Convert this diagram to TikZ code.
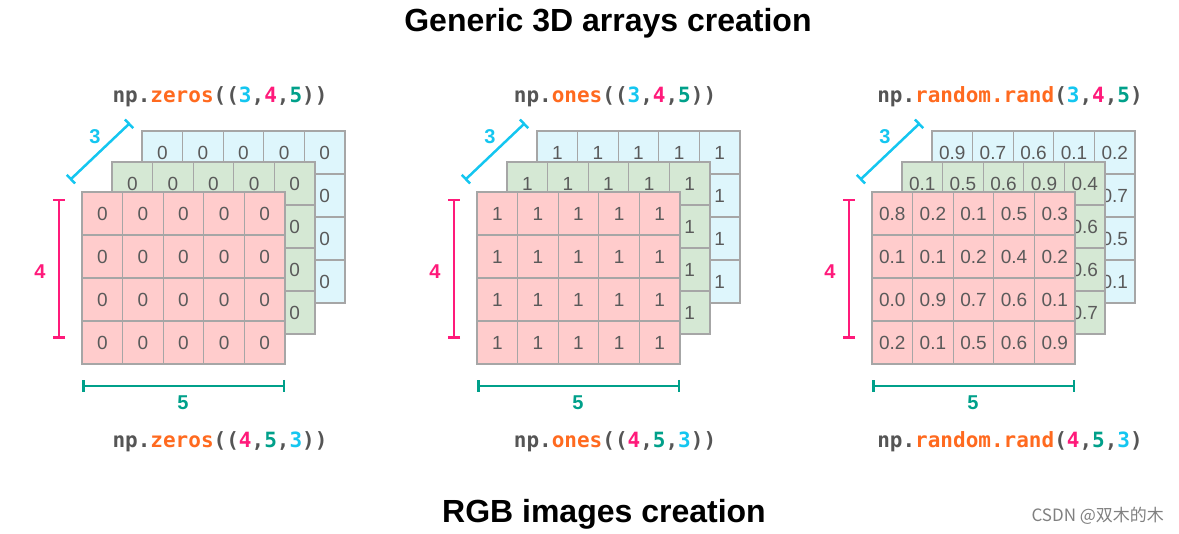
\documentclass[tikz,border=0pt]{standalone}
\usepackage{fontspec}
\setmainfont{Liberation Sans}
\setmonofont{DejaVu Sans Mono}
\newfontfamily\cjk{Noto Sans CJK SC}
\usepackage{xcolor}
\usepackage{tikz}
\usetikzlibrary{arrows.meta}

\definecolor{redlayer}{HTML}{FFCCCC}
\definecolor{greenlayer}{HTML}{D5E8D4}
\definecolor{bluelayer}{HTML}{DEF6FC}
\definecolor{cellgray}{HTML}{A6A6A6}
\definecolor{numgray}{HTML}{5A5A5A}
\definecolor{dimcyan}{HTML}{14C6F0}
\definecolor{dimpink}{HTML}{FF1A7A}
\definecolor{dimteal}{HTML}{00A08A}
\definecolor{codegray}{HTML}{555555}
\definecolor{codeorange}{HTML}{FF6A1F}

\newcommand{\cg}[1]{\textcolor{codegray}{#1}}
\newcommand{\co}[1]{\textcolor{codeorange}{#1}}
\newcommand{\shapetop}{\textcolor{dimcyan}{3}\cg{,}\textcolor{dimpink}{4}\cg{,}\textcolor{dimteal}{5}}
\newcommand{\shapebot}{\textcolor{dimpink}{4}\cg{,}\textcolor{dimteal}{5}\cg{,}\textcolor{dimcyan}{3}}

% one layer of cells: name, x and y of first cell centre, fill, rows
\newcommand{\gridlayer}[5]{%
  \foreach \vals [count=\row from 0] in {#5} {%
    \foreach \val [count=\col from 0] in \vals {%
      \node[cell, fill=#4] (#1-\row-\col) at ({#2+\col*40.6}, {#3+\row*43}) {\val};
    }%
  }%
}

\begin{document}
\begin{tikzpicture}[x=1pt, y=-1pt]

		\tikzstyle{cell}   = [rectangle, draw=cellgray, line width=1.3pt, minimum width=40.6pt, minimum height=43pt, inner sep=0pt, text=numgray, font=\fontsize{19}{19}\selectfont]
		\tikzstyle{dimbar} = [line width=2.5pt, {Bar[width=12pt]}-{Bar[width=12pt]}]
		\tikzstyle{dimtext} = [font=\fontsize{20}{20}\selectfont\bfseries]
		\tikzstyle{code}   = [font=\fontsize{21}{21}\selectfont\ttfamily\bfseries, text=codegray]
		\tikzstyle{title}  = [font=\fontsize{32}{32}\selectfont\bfseries, text=black]

		\useasboundingbox (0,0) rectangle (1179,534);

		%%Titles
		\node [title](top) at (608,23) {Generic 3D arrays creation};
		\node [title](bottom) at (604,514) {RGB images creation};
		\node [font=\fontsize{17}{17}\selectfont\cjk, text=black!50, anchor=west](mark) at (1028,516) {CSDN @双木的木};

		%%np.zeros
		\gridlayer{zb}{162.3}{152.5}{bluelayer}{{0,0,0,0,0},{,,,,0},{,,,,0},{,,,,0}}
		\gridlayer{zg}{132.3}{183.5}{greenlayer}{{0,0,0,0,0},{,,,,0},{,,,,0},{,,,,0}}
		\gridlayer{zr}{102.3}{213.5}{redlayer}{{0,0,0,0,0},{0,0,0,0,0},{0,0,0,0,0},{0,0,0,0,0}}

		%%np.ones
		\gridlayer{ob}{557.3}{152.5}{bluelayer}{{1,1,1,1,1},{,,,,1},{,,,,1},{,,,,1}}
		\gridlayer{og}{527.3}{183.5}{greenlayer}{{1,1,1,1,1},{,,,,1},{,,,,1},{,,,,1}}
		\gridlayer{or}{497.3}{213.5}{redlayer}{{1,1,1,1,1},{1,1,1,1,1},{1,1,1,1,1},{1,1,1,1,1}}

		%%np.random.rand
		\gridlayer{rb}{952.3}{152.5}{bluelayer}{{0.9,0.7,0.6,0.1,0.2},{,,,,0.7},{,,,,0.5},{,,,,0.1}}
		\gridlayer{rg}{922.3}{183.5}{greenlayer}{{0.1,0.5,0.6,0.9,0.4},{,,,,0.6},{,,,,0.6},{,,,,0.7}}
		\gridlayer{rr}{892.3}{213.5}{redlayer}{{0.8,0.2,0.1,0.5,0.3},{0.1,0.1,0.2,0.4,0.2},{0.0,0.9,0.7,0.6,0.1},{0.2,0.1,0.5,0.6,0.9}}

		%%Dimensions
		\foreach \X/\nm in {82/z, 477/o, 872/r} {
			\coordinate (\nm-da) at (\X-12,180);
			\coordinate (\nm-db) at (\X+48,123);
			\coordinate (\nm-ha) at (\X-23,199);
			\coordinate (\nm-hb) at (\X-23,339);
			\coordinate (\nm-wa) at (\X,386);
			\coordinate (\nm-wb) at (\X+203,386);
			\draw [dimbar, dimcyan] (\nm-da) -- (\nm-db);
			\draw [dimbar, dimpink] (\nm-ha) -- (\nm-hb);
			\draw [dimbar, dimteal] (\nm-wa) -- (\nm-wb);
			\node [dimtext, text=dimcyan](\nm-d) at (\X+13,137) {3};
			\node [dimtext, text=dimpink](\nm-h) at (\X-42,272) {4};
			\node [dimtext, text=dimteal](\nm-w) at (\X+101,403) {5};
		}

		%%Calls
		\node [code](z-top) at (220,97) {\cg{np.}\co{zeros}\cg{((}\shapetop\cg{))}};
		\node [code](z-bot) at (220,442) {\cg{np.}\co{zeros}\cg{((}\shapebot\cg{))}};
		\node [code](o-top) at (615,97) {\cg{np.}\co{ones}\cg{((}\shapetop\cg{))}};
		\node [code](o-bot) at (615,442) {\cg{np.}\co{ones}\cg{((}\shapebot\cg{))}};
		\node [code](r-top) at (1010,97) {\cg{np.}\co{random.rand}\cg{(}\shapetop\cg{)}};
		\node [code](r-bot) at (1010,442) {\cg{np.}\co{random.rand}\cg{(}\shapebot\cg{)}};
	\end{tikzpicture}
\end{document}
